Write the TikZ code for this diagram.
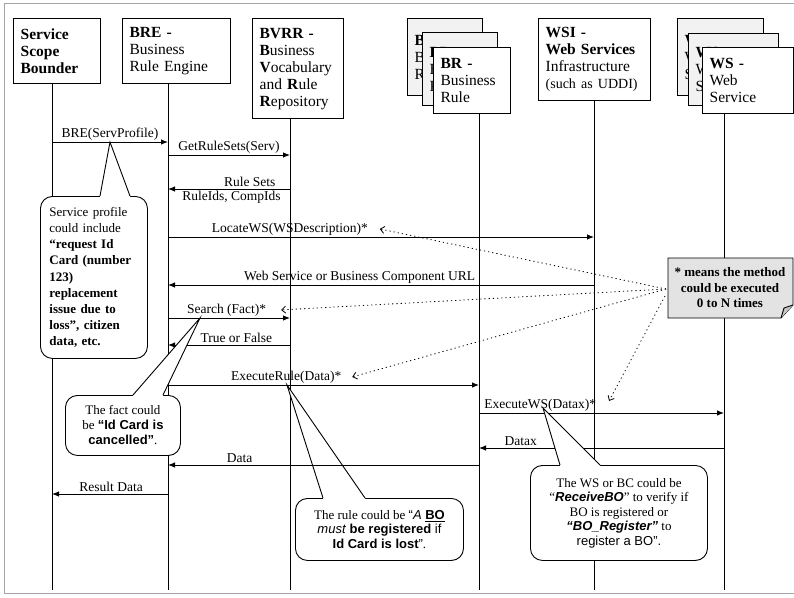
\documentclass[tikz,border=0pt]{standalone}
\usepackage{fontspec}
\setmainfont{Liberation Serif}
\setsansfont{Liberation Sans}
\usetikzlibrary{arrows.meta, calc}

\begin{document}
\begin{tikzpicture}[x=1pt, y=-1pt, line width=0.9pt,
    hdr/.style={draw, fill=white, line width=1.3pt, anchor=north west, align=left, inner xsep=7pt, font=\fontsize{15.5}{17}\selectfont},
    back/.style={hdr, fill=gray!10},
    msg/.style={-{Latex[length=7pt,width=5.5pt]}},
    lbl/.style={inner sep=1.5pt, font=\fontsize{13.5}{15}\selectfont},
    bubble/.style={draw, fill=white, rounded corners=12pt, anchor=north west, align=center, font=\fontsize{13}{14.5}\selectfont},
    dotarr/.style={dash pattern=on 1.2pt off 3pt, line width=0.8pt, -{Straight Barb[length=4pt,width=7pt]}}
]
\useasboundingbox (0,0) rectangle (794,597);

% Frame
\draw[gray!70, line width=1pt] (794,3) -- (4,3) -- (4,593) -- (794,593);

% Participants
\node[hdr, text width=73pt, minimum height=65pt] (ssb) at (13,18) {\textbf{Service}\\\textbf{Scope}\\\textbf{Bounder}};
\node[hdr, text width=94pt, minimum height=65pt] (bre) at (122,18) {\textbf{BRE -}\\Business\\Rule Engine};
\node[hdr, text width=77pt, minimum height=100pt] (bvrr) at (252,18) {\textbf{BVRR -}\\\textbf{B}usiness\\\textbf{V}ocabulary\\and \textbf{R}ule\\\textbf{R}epository};
% stacked business rules
\node[back, text width=61pt, minimum height=77pt] (br3) at (407,18) {\textbf{BR -}\\Business\\Rule};
\node[back, text width=61pt, minimum height=73pt] (br2) at (422,32) {\textbf{BR -}\\Business\\Rule};
\node[hdr, text width=63pt, minimum height=66pt] (br) at (433,47) {\textbf{BR -}\\Business\\Rule};
\node[hdr, text width=98pt, minimum height=82pt] (wsi) at (538,18) {\textbf{WSI -}\\\textbf{Web Services}\\Infrastructure\\{\fontsize{14}{17}\selectfont(such as UDDI)}};
% stacked web services
\node[back, text width=72pt, minimum height=77pt] (ws3) at (677,18) {\textbf{WS -}\\Web\\Service};
\node[back, text width=76pt, minimum height=72pt] (ws2) at (688,33) {\textbf{WS -}\\Web\\Service};
\node[hdr, text width=77pt, minimum height=66pt] (ws) at (702,47) {\textbf{WS -}\\Web\\Service};

% Lifelines
\foreach \n/\x/\t in {ssb/52/83, bre/168/83, bvrr/290/118, br/479/113, wsi/594/100, ws/724/113} {
    \coordinate (\n-t) at (\x,\t);
    \coordinate (\n-b) at (\x,590);
    \draw (\n-t) -- (\n-b);
}

% Message levels
\foreach \i/\y in {1/142, 2/155, 3/189, 4/237, 5/285, 6/318, 7/345, 8/385, 9/413, 10/448, 11/465, 12/494}
    \coordinate (m\i) at (0,\y);

% Rule callout (under the messages)
\node[bubble, minimum width=168pt, minimum height=62pt] (cC) at (295,498) {The rule could be \textsf{“\textit{A} \textbf{\underline{BO}}}\\\textsf{\textit{must} \textbf{be registered} if}\\\textsf{\textbf{Id Card is lost}”}.};
\coordinate (pC) at (287,385);
\fill[white] ($(cC.north west)+(28,0)$) -- (pC) -- ($(cC.north west)+(70,0)$) -- ++(0,1.5) -- ++(-42,0) -- cycle;
\draw ($(cC.north west)+(28,0)$) -- (pC) -- ($(cC.north west)+(70,0)$);

% Messages
\draw[msg] (ssb-t |- m1) -- node[lbl, above] {BRE(ServProfile)} (bre-t |- m1);
\draw[msg] (bre-t |- m2) -- node[lbl, above] {GetRuleSets(Serv)} (bvrr-t |- m2);
\draw[msg] (bvrr-t |- m3) -- node[lbl, above, pos=0.33] {Rule Sets} node[lbl, below, pos=0.48] {RuleIds, CompIds} (bre-t |- m3);
\draw[msg] (bre-t |- m4) -- node[lbl, above, pos=0.286] (lloc) {LocateWS(WSDescription)*} (wsi-t |- m4);
\draw[msg] (wsi-t |- m5) -- node[lbl, above, pos=0.55] {Web Service or Business Component URL} (bre-t |- m5);
\draw[msg] (bre-t |- m6) -- node[lbl, above, pos=0.48] (lsearch) {Search (Fact)*} (bvrr-t |- m6);
\draw[msg] (bvrr-t |- m7) -- node[lbl, above, pos=0.44] {True or False} (bre-t |- m7);
\draw[msg] (bre-t |- m8) -- node[lbl, above, pos=0.38] (lexec) {ExecuteRule(Data)*} (br-t |- m8);
\draw[msg] (br-t |- m9) -- node[lbl, above, pos=0.25] (lexws) {ExecuteWS(Datax)*} (ws-t |- m9);
\draw[msg] (ws-t |- m10) -- node[lbl, above, pos=0.83] {Datax} (br-t |- m10);
\draw[msg] (br-t |- m11) -- node[lbl, above, pos=0.77] {Data} (bre-t |- m11);
\draw[msg] (bre-t |- m12) -- node[lbl, above, pos=0.49] {Result Data} (ssb-t |- m12);

% Note on starred methods
\draw[fill=gray!22] (668,258) -- (793,258) -- (793,305) -- (781,318) -- (668,318) -- cycle;
\draw[fill=gray!45] (781,318) -- (784,308) -- (793,305);
\node[align=center, font=\bfseries\fontsize{13}{15.5}\selectfont] (note) at (730,288) {* means the method\\could be executed\\0 to N times};
\coordinate (nin) at (666,289);
\coordinate (nin2) at (665,296);
\draw[dotarr] (nin) -- ([xshift=10pt]lloc.east);
\draw[dotarr] (nin) -- ([xshift=13pt]lsearch.east);
\draw[dotarr] (nin) -- ([xshift=9pt]lexec.east);
\draw[dotarr] (nin2) -- ([xshift=11pt,yshift=4pt]lexws.east);

% Service profile callout
\node[bubble, align=left, text width=89pt, inner xsep=9pt, minimum height=162pt, font=\fontsize{13}{16.2}\selectfont] (cA) at (40,196) {Service profile\\could include\\\textbf{“request Id}\\\textbf{Card (number}\\\textbf{123)}\\\textbf{replacement}\\\textbf{issue due to}\\\textbf{loss”, citizen}\\\textbf{data, etc.}};
\coordinate (pA) at (110,142);
\fill[white] ($(cA.north west)+(60,0)$) -- (pA) -- ($(cA.north west)+(90,0)$) -- ++(0,1.5) -- ++(-30,0) -- cycle;
\draw ($(cA.north west)+(60,0)$) -- (pA) -- ($(cA.north west)+(90,0)$);

% Fact callout
\node[bubble, minimum width=115pt, minimum height=60pt, font=\fontsize{13}{15}\selectfont] (cB) at (65,395) {The fact could\\be \textsf{\textbf{“Id Card is}}\\\textsf{\textbf{cancelled”}}.};
\coordinate (pB) at (200,318);
\fill[white] ($(cB.north west)+(68,0)$) -- (pB) -- ($(cB.north west)+(98,0)$) -- ++(0,1.5) -- ++(-30,0) -- cycle;
\draw ($(cB.north west)+(68,0)$) -- (pB) -- ($(cB.north west)+(98,0)$);

% Web service callout
\node[bubble, minimum width=177pt, minimum height=95pt] (cD) at (530,465) {The WS or BC could be\\“\textsf{\textbf{\textit{ReceiveBO}}}” to verify if\\BO is registered or\\\textsf{\textbf{\textit{“BO\_Register”}}} to\\\textsf{register a BO”.}};
\coordinate (pD) at (543,408);
\fill[white] ($(cD.north west)+(30,0)$) -- (pD) -- ($(cD.north west)+(70,0)$) -- ++(0,1.5) -- ++(-40,0) -- cycle;
\draw ($(cD.north west)+(30,0)$) -- (pD) -- ($(cD.north west)+(70,0)$);

\end{tikzpicture}
\end{document}
